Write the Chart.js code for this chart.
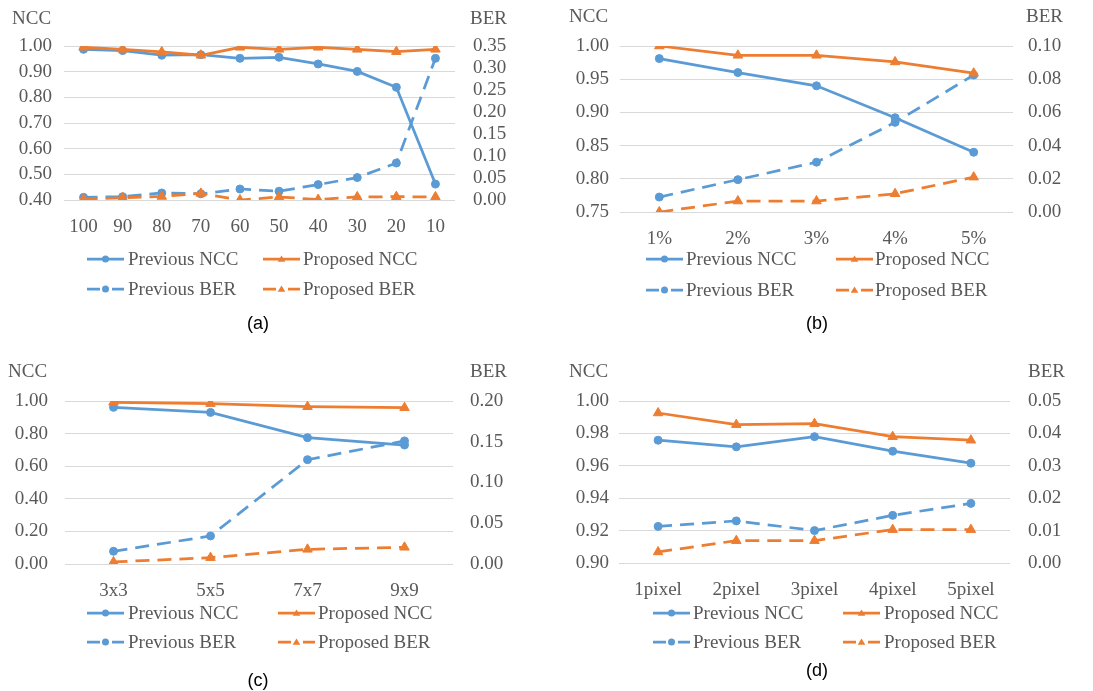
<!DOCTYPE html>
<html><head><meta charset="utf-8">
<script src="https://cdn.jsdelivr.net/npm/chart.js@4.4.1/dist/chart.umd.min.js"></script>
<style>
html,body{margin:0;padding:0;background:#fff;}
body{width:1093px;height:691px;position:relative;overflow:hidden;}
canvas{position:absolute;}
</style></head><body>
<canvas id="ca" width="546" height="345" style="left:0;top:0"></canvas>
<canvas id="cb" width="547" height="345" style="left:546px;top:0"></canvas>
<canvas id="cc" width="546" height="346" style="left:0;top:345px"></canvas>
<canvas id="cd" width="547" height="346" style="left:546px;top:345px"></canvas>
<script>
// ---- data ----
const catsA = ['100','90','80','70','60','50','40','30','20','10'];
const prevNccA = [0.987,0.982,0.964,0.966,0.952,0.956,0.930,0.901,0.839,0.462];
const propNccA = [0.995,0.987,0.977,0.964,0.995,0.987,0.995,0.987,0.978,0.987];
const prevBerA = [0.006,0.0075,0.016,0.014,0.025,0.020,0.035,0.051,0.084,0.322];
const propBerA = [0.002,0.005,0.008,0.015,0.000,0.007,0.001,0.007,0.0075,0.007];

const catsB = ['1%','2%','3%','4%','5%'];
const prevNccB = [0.981,0.960,0.940,0.892,0.840];
const propNccB = [1.000,0.986,0.986,0.976,0.959];
const prevBerB = [0.009,0.0195,0.030,0.054,0.0825];
const propBerB = [0.000,0.0066,0.0066,0.011,0.021];

const catsC = ['3x3','5x5','7x7','9x9'];
const prevNccC = [0.961,0.930,0.775,0.730];
const propNccC = [0.992,0.984,0.965,0.959];
const prevBerC = [0.0156,0.0344,0.128,0.151];
const propBerC = [0.0025,0.0078,0.018,0.0205];

const catsD = ['1pixel','2pixel','3pixel','4pixel','5pixel'];
const prevNccD = [0.9758,0.9717,0.978,0.969,0.9616];
const propNccD = [0.9926,0.9854,0.986,0.978,0.9758];
const prevBerD = [0.0113,0.0130,0.0100,0.0147,0.0184];
const propBerD = [0.0034,0.0069,0.0069,0.0103,0.0103];

const legendLabels = ['Previous NCC','Proposed NCC','Previous BER','Proposed BER'];

// ---- style ----
const BLUE = '#5B9BD5', ORANGE = '#ED7D31', TXT = '#595959', GRID = '#D9D9D9';
const FONT = '"Liberation Serif", "Times New Roman", serif';
const DASH = [14, 8];

function drawMarker(ctx, type, x, y, r, color) {
  ctx.save();
  ctx.fillStyle = color;
  ctx.beginPath();
  if (type === 'circle') {
    ctx.arc(x, y, r, 0, Math.PI * 2);
  } else {
    const h = r * 1.7;
    ctx.moveTo(x, y - h * 0.6);
    ctx.lineTo(x + r * 1.1, y + h * 0.45);
    ctx.lineTo(x - r * 1.1, y + h * 0.45);
    ctx.closePath();
  }
  ctx.fill();
  ctx.restore();
}

const panelText = {
  id: 'panelText',
  afterDraw(chart, args, o) {
    const ctx = chart.ctx;
    ctx.save();
    ctx.font = '19px ' + FONT;
    ctx.fillStyle = TXT;
    ctx.textBaseline = 'middle';
    ctx.textAlign = 'left';
    ctx.fillText('NCC', o.nccX, o.titleY);
    ctx.fillText('BER', o.berX, o.titleY);
    const items = [
      {c: BLUE, dash: false, m: 'circle', sx: o.s1, tx: o.t1, y: o.r1},
      {c: ORANGE, dash: false, m: 'tri', sx: o.s2, tx: o.t2, y: o.r1},
      {c: BLUE, dash: true, m: 'circle', sx: o.s1, tx: o.t1, y: o.r2},
      {c: ORANGE, dash: true, m: 'tri', sx: o.s2, tx: o.t2, y: o.r2}
    ];
    items.forEach((it, i) => {
      ctx.save();
      ctx.strokeStyle = it.c;
      ctx.lineWidth = 2.75;
      ctx.setLineDash(it.dash ? [13, 12] : []);
      ctx.beginPath();
      ctx.moveTo(it.sx, it.y);
      ctx.lineTo(it.sx + 37, it.y);
      ctx.stroke();
      ctx.restore();
      drawMarker(ctx, it.m, it.sx + 18.5, it.y, 3.5, it.c);
      ctx.fillStyle = TXT;
      ctx.font = '19px ' + FONT;
      ctx.textAlign = 'left';
      ctx.fillText(legendLabels[i], it.tx, it.y + 1);
    });
    ctx.font = '18px "Liberation Sans", Arial, sans-serif';
    ctx.fillStyle = '#000';
    ctx.textAlign = 'center';
    ctx.fillText(o.caption, o.capX, o.capY);
    ctx.restore();
  }
};

function makeChart(id, cfg) {
  const W = cfg.W, H = cfg.H;
  const xAxisH = 40;
  const ds = (label, data, color, dashed, marker, axis, order) => ({
    label, data, yAxisID: axis, order,
    borderColor: color, backgroundColor: color,
    borderWidth: 2.75, borderDash: dashed ? DASH : [],
    pointStyle: marker, pointRadius: marker === 'triangle' ? 5.5 : 4,
    pointBorderWidth: 1, pointBorderColor: color, pointBackgroundColor: color,
    tension: 0, fill: false
  });
  return new Chart(document.getElementById(id), {
    type: 'line',
    data: {
      labels: cfg.cats,
      datasets: [
        ds('Previous NCC', cfg.prevNcc, BLUE, false, 'circle', 'y', 1),
        ds('Proposed NCC', cfg.propNcc, ORANGE, false, 'triangle', 'y', 0),
        ds('Previous BER', cfg.prevBer, BLUE, true, 'circle', 'y1', 1),
        ds('Proposed BER', cfg.propBer, ORANGE, true, 'triangle', 'y1', 0)
      ]
    },
    plugins: [panelText],
    options: {
      responsive: false,
      animation: false,
      events: [],
      layout: { padding: { left: 0, right: 0, top: cfg.top, bottom: H - cfg.bottom - xAxisH } },
      plugins: {
        legend: { display: false },
        tooltip: { enabled: false },
        panelText: cfg.text
      },
      scales: {
        x: {
          type: 'category', offset: true,
          grid: { display: false },
          border: { display: false },
          ticks: { color: TXT, font: { family: FONT, size: 19 }, padding: cfg.xpad, maxRotation: 0, autoSkip: false },
          afterFit: s => { s.height = xAxisH; }
        },
        y: {
          position: 'left', min: cfg.nccMin, max: cfg.nccMax,
          grid: { color: GRID, lineWidth: 1, drawTicks: false },
          border: { display: false },
          ticks: { stepSize: cfg.nccStep, autoSkip: false, color: TXT, font: { family: FONT, size: 19 }, padding: cfg.lpad,
                   callback: v => Number(v).toFixed(2) },
          afterFit: s => { s.width = cfg.left; }
        },
        y1: {
          position: 'right', min: 0, max: cfg.berMax,
          grid: { display: false, drawTicks: false },
          border: { display: false },
          ticks: { stepSize: cfg.berStep, autoSkip: false, color: TXT, font: { family: FONT, size: 19 }, padding: cfg.rpad,
                   callback: v => Number(v).toFixed(2) },
          afterFit: s => { s.width = W - cfg.right; }
        }
      }
    }
  });
}

makeChart('ca', {
  W: 546, H: 345, cats: catsA, prevNcc: prevNccA, propNcc: propNccA, prevBer: prevBerA, propBer: propBerA,
  left: 64, right: 455, top: 46, bottom: 200, lpad: 12, rpad: 18, xpad: 8,
  nccMin: 0.4, nccMax: 1.0, nccStep: 0.1, berMax: 0.35, berStep: 0.05,
  text: { nccX: 12, berX: 470, titleY: 19, s1: 87, t1: 128, s2: 263, t2: 303, r1: 259, r2: 289, caption: '(a)', capX: 258, capY: 324 }
});
makeChart('cb', {
  W: 547, H: 345, cats: catsB, prevNcc: prevNccB, propNcc: propNccB, prevBer: prevBerB, propBer: propBerB,
  left: 74, right: 467, top: 46, bottom: 212, lpad: 11, rpad: 15, xpad: 8,
  nccMin: 0.75, nccMax: 1.0, nccStep: 0.05, berMax: 0.10, berStep: 0.02,
  text: { nccX: 23, berX: 480, titleY: 17, s1: 100, t1: 140, s2: 290, t2: 329, r1: 259, r2: 290, caption: '(b)', capX: 271, capY: 324 }
});
makeChart('cc', {
  W: 546, H: 346, cats: catsC, prevNcc: prevNccC, propNcc: propNccC, prevBer: prevBerC, propBer: propBerC,
  left: 65, right: 453, top: 56, bottom: 219, lpad: 17, rpad: 17, xpad: 8,
  nccMin: 0, nccMax: 1.0, nccStep: 0.2, berMax: 0.20, berStep: 0.05,
  text: { nccX: 8, berX: 470, titleY: 27, s1: 87, t1: 128, s2: 278, t2: 318, r1: 268, r2: 297, caption: '(c)', capX: 258, capY: 336 }
});
makeChart('cd', {
  W: 547, H: 346, cats: catsD, prevNcc: prevNccD, propNcc: propNccD, prevBer: prevBerD, propBer: propBerD,
  left: 73, right: 464, top: 56, bottom: 218, lpad: 10, rpad: 18, xpad: 8,
  nccMin: 0.9, nccMax: 1.0, nccStep: 0.02, berMax: 0.05, berStep: 0.01,
  text: { nccX: 23, berX: 482, titleY: 27, s1: 107, t1: 147, s2: 297, t2: 338, r1: 268, r2: 297, caption: '(d)', capX: 271, capY: 326 }
});
</script>
</body></html>
